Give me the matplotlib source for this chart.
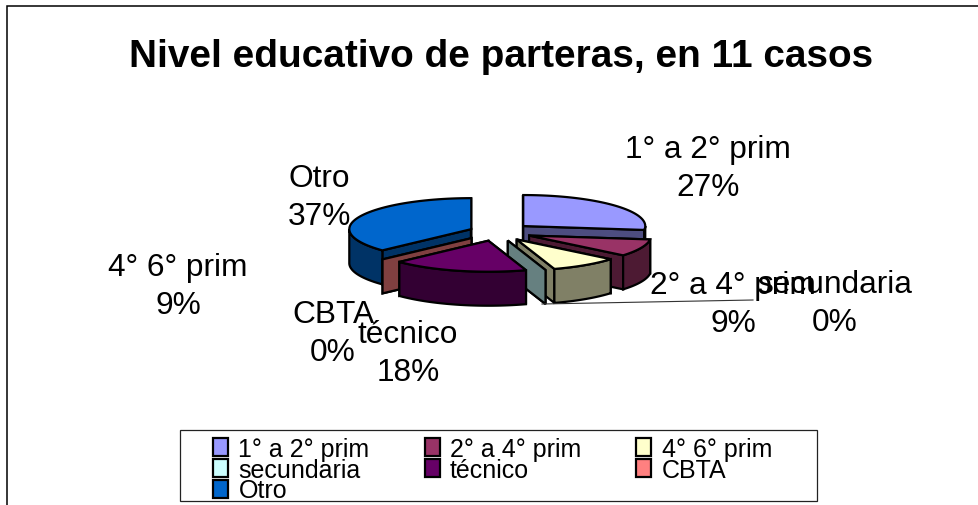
import numpy as np
import matplotlib
matplotlib.use("Agg")
import matplotlib.pyplot as plt
from matplotlib.patches import Polygon, Patch, Rectangle

plt.rcParams['font.family'] = ['Liberation Sans', 'DejaVu Sans']

categories = ['1° a 2° prim', '2° a 4° prim', '4° 6° prim', 'secundaria', 'técnico', 'CBTA', 'Otro']
percents = [27, 9, 9, 0, 18, 0, 37]
colors = ['#9999FF', '#993366', '#FFFFCC', '#CCFFFF', '#660066', '#FF8080', '#0066CC']

# layout, in pixels of the 979x506 picture
CX, CY = 497, 233
RX, RY = 122, 31
DEPTH = 34
EXPLODE_X, EXPLODE_Y = 35, 9
explode = [1, 1, 1, 1, 1, 1, 0.8]
label_pos = [(708, 169), (733, 305), (178, 287), (835, 304), (408, 354), (333, 334), (319, 198)]
EDGE = 1.6


def darker(c):
    return tuple(v * 0.5 for v in matplotlib.colors.to_rgb(c))


def ring(ax_, ay, a0, a1, n=60):
    t = np.radians(np.linspace(a0, a1, n))
    return np.column_stack([ax_ + RX * np.sin(t), ay - RY * np.cos(t)])


fig = plt.figure(figsize=(9.79, 5.06), dpi=100)
ax = fig.add_axes([0, 0, 1, 1])
ax.set_xlim(0, 979)
ax.set_ylim(506, 0)
ax.axis('off')

# chart frame, cut off at the bottom and right of the picture
ax.plot([7.3, 7.3, 979], [506, 6.5, 6.5], color='black', lw=1.1, solid_joinstyle='miter')

ax.text(501, 57, 'Nivel educativo de parteras, en 11 casos', fontsize=27.9, fontweight='bold',
        ha='center', va='center')

# work out slice angles, clockwise from 12 o'clock
edges = np.concatenate([[0], np.cumsum(percents)]) * 3.6
edges[-1] = 360
slices = []
for i, c in enumerate(colors):
    a0, a1 = edges[i], edges[i + 1]
    mid = np.radians((a0 + a1) / 2)
    px = CX + explode[i] * EXPLODE_X * np.sin(mid)
    py = CY - explode[i] * EXPLODE_Y * np.cos(mid)
    slices.append((i, c, a0, a1, px, py))

# painter's order, back to front
for i in [0, 6, 1, 5, 2, 3, 4]:
    _, c, a0, a1, px, py = slices[i]
    dark = darker(c)
    for a in (a0, a1):
        p = ring(px, py, a, a, 1)[0]
        face = [(px, py), p, (p[0], p[1] + DEPTH), (px, py + DEPTH)]
        ax.add_patch(Polygon(face, closed=True, fc=dark, ec='black', lw=EDGE, joinstyle='miter'))
    lo, hi = max(a0, 90), min(a1, 270)
    if hi > lo:
        top = ring(px, py, lo, hi)
        wall = np.vstack([top, (top + [0, DEPTH])[::-1]])
        ax.add_patch(Polygon(wall, closed=True, fc=dark, ec='black', lw=EDGE, joinstyle='miter'))
    if a1 > a0:
        arc = ring(px, py, a0, a1)
        ax.add_patch(Polygon(np.vstack([[(px, py)], arc]), closed=True, fc=c, ec='black', lw=EDGE, joinstyle='miter'))

# leader line of the third label
ax.plot([542, 753], [305, 301], color='#333333', lw=0.8)

for name, pct, (x, y) in zip(categories, percents, label_pos):
    ax.text(x, y, f'{name}\n{pct}%', fontsize=22.8, ha='center', va='center', linespacing=1.33)

# legend box is wider than its contents, so it is drawn apart
ax.add_patch(Rectangle((180, 431), 637, 71, fc='white', ec='#222222', lw=0.9))
handles = [Patch(fc=c, ec='black', lw=1.6) for c in colors]
order = [0, 3, 6, 1, 4, 2, 5]
ax.legend([handles[i] for i in order], [categories[i] for i in order], ncols=3,
          loc='upper left', bbox_to_anchor=(213 / 979, 1 - 438 / 506), fontsize=18,
          frameon=False, handlelength=0.6, handleheight=0.75, handletextpad=0.42, labelspacing=-0.13,
          columnspacing=2.2, borderpad=0, borderaxespad=0)

fig.savefig('out.png', dpi=100)
